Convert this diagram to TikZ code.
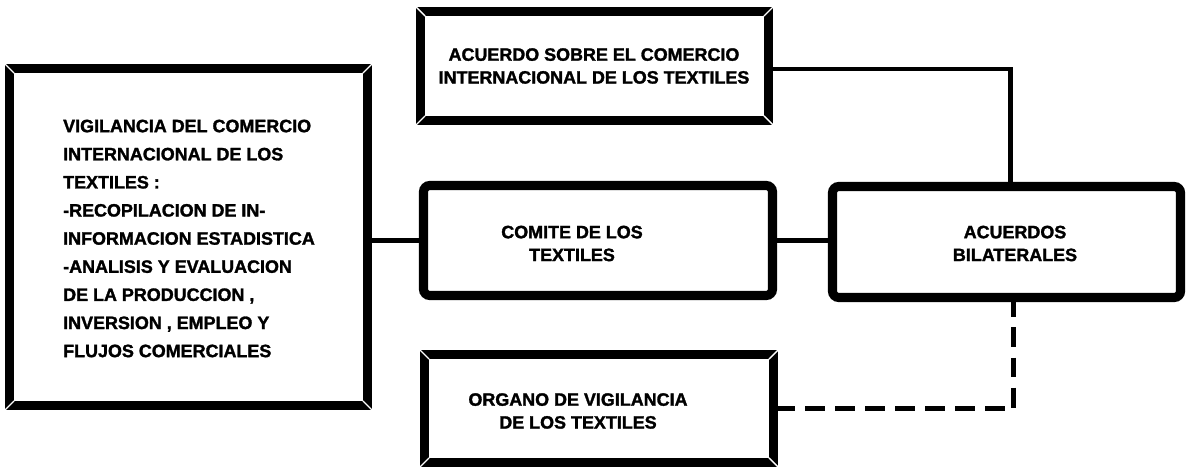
\documentclass[tikz,border=0pt]{standalone}
\usepackage{fontspec}
\setmainfont{Liberation Sans}
\newfontfamily\heavyfont[FakeBold=1.6]{Liberation Sans Bold}
\usetikzlibrary{positioning, calc}

\tikzset{
  framebox/.style={draw, line width=2.6pt, inner sep=0pt, outer sep=0pt},
  roundbox/.style={framebox, rounded corners=1.8pt},
  boxtext/.style={font=\heavyfont\fontsize{5.1}{6.5}\selectfont, align=center, inner sep=0pt},
  listtext/.style={boxtext, align=left, font=\heavyfont\fontsize{5.1}{8}\selectfont},
  link/.style={line width=1.3pt},
  dashlink/.style={line width=1.4pt, dash pattern=on 0.2cm off 0.1cm},
  bevel/.style={white, line width=0.4pt}
}

\begin{document}
\begin{tikzpicture}
  \fill[white] (0,0) rectangle (11.86,-4.68);
  % Boxes
  \node[framebox, minimum width=3.58cm, minimum height=3.37cm] (vigil) at (1.885,-2.37) {};
  \node[framebox, minimum width=3.48cm, minimum height=1.09cm] (acuerdo) at (5.945,-0.66) {};
  \node[roundbox, minimum width=3.49cm, minimum height=1.10cm] (comite) at (5.98,-2.405) {};
  \node[roundbox, minimum width=3.48cm, minimum height=1.11cm] (bilat) at (10.065,-2.42) {};
  \node[framebox, minimum width=3.49cm, minimum height=1.08cm] (organo) at (5.99,-4.085) {};
  % Bevelled corners
  \foreach \n in {vigil,acuerdo,organo}
    \foreach \c/\ax/\ay/\bx/\by in {north west/-1.3pt/1.3pt/1.3pt/-1.3pt,
                                    north east/1.3pt/1.3pt/-1.3pt/-1.3pt,
                                    south east/1.3pt/-1.3pt/-1.3pt/1.3pt,
                                    south west/-1.3pt/-1.3pt/1.3pt/1.3pt}
      \draw[bevel] ([shift={(\ax,\ay)}]\n.\c) -- ([shift={(\bx,\by)}]\n.\c);
  % Texts
  \node[listtext] (vigil-txt) at (1.89,-2.385) {VIGILANCIA DEL COMERCIO\\
    INTERNACIONAL DE LOS\\
    TEXTILES :\\
    -RECOPILACION DE IN-\\
    INFORMACION ESTADISTICA\\
    -ANALISIS Y EVALUACION\\
    DE LA PRODUCCION ,\\
    INVERSION , EMPLEO Y\\
    FLUJOS COMERCIALES};
  \node[boxtext] (acuerdo-txt) at (5.94,-0.66) {ACUERDO SOBRE EL COMERCIO\\INTERNACIONAL DE LOS TEXTILES};
  \node[boxtext] (comite-txt) at (5.72,-2.435) {COMITE DE LOS\\TEXTILES};
  \node[boxtext] (bilat-txt) at (10.15,-2.435) {ACUERDOS\\BILATERALES};
  \node[boxtext] (organo-txt) at (5.78,-4.11) {ORGANO DE VIGILANCIA\\DE LOS TEXTILES};
  % Connectors
  \draw[link] (vigil.east |- comite.west) -- (comite.west);
  \draw[link] (comite.east) -- (comite.east -| bilat.west);
  \draw[link] ([yshift=-0.03cm]acuerdo.east) -| ([xshift=0.04cm]bilat.north);
  \draw[dashlink] ([xshift=0.07cm]bilat.south) |- (organo.east);
\end{tikzpicture}
\end{document}
